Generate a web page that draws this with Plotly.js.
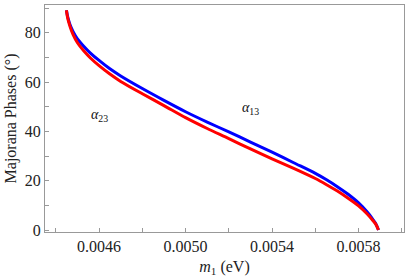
<!DOCTYPE html>
<html>
<head>
<meta charset="utf-8">
<script src="https://cdn.plot.ly/plotly-3.0.1.min.js"></script>
<style>html,body{margin:0;padding:0;background:#fff;}#chart{width:414px;height:279px;}</style>
</head>
<body>
<div id="chart"></div>
<script>
const m1Blue = [0.004449,0.004455,0.004465,0.004480,0.004500,0.004530,0.004560,0.004600,0.004650,0.004700,0.004800,0.004900,0.005000,0.005100,0.005200,0.005300,0.005400,0.005500,0.005600,0.005650,0.005700,0.005750,0.005800,0.005840,0.005865,0.005880,0.005892];
const alphaBlue = [89.2,86.5,83.5,80.5,77.6,74.5,71.8,68.8,65.4,62.5,57.4,52.6,48.0,43.8,39.8,35.7,31.6,27.3,23.0,20.5,17.7,14.6,11.0,7.3,4.4,2.5,0.0];
const m1Red = [0.004449,0.004455,0.004465,0.004480,0.004500,0.004530,0.004560,0.004600,0.004650,0.004700,0.004800,0.004900,0.005000,0.005100,0.005200,0.005300,0.005400,0.005500,0.005600,0.005650,0.005700,0.005750,0.005800,0.005840,0.005865,0.005880,0.005892];
const alphaRed = [89.2,86.0,82.8,79.3,76.0,72.6,69.8,66.7,63.3,60.3,55.3,50.5,45.6,41.2,37.1,32.9,28.9,25.0,20.9,18.5,15.9,13.0,9.8,6.5,4.0,2.3,0.0];

const xTickVals = [0.0046,0.0050,0.0054,0.0058];
const xTickText = ['0.0046','0.0050','0.0054','0.0058'];
const xMinorVals = [0.0044,0.0048,0.0052,0.0056,0.0060];
const yTickVals = [0,20,40,60,80];
const yTickText = ['0','20','40','60','80'];
const yMinorVals = [10,30,50,70,90];

const labels = [
  {text: '<i>α</i><sub>23</sub>', x: 0.004600, y: 46.5},
  {text: '<i>α</i><sub>13</sub>', x: 0.005300, y: 49.5}
];

const serif = 'Liberation Serif';

const traces = [
  {x: m1Blue, y: alphaBlue, mode: 'lines', line: {color: '#0000ff', width: 3, shape: 'spline', smoothing: 0.8}, hoverinfo: 'skip'},
  {x: m1Red, y: alphaRed, mode: 'lines', line: {color: '#ff0000', width: 3, shape: 'spline', smoothing: 0.8}, hoverinfo: 'skip'}
];

const axisCommon = {
  ticks: 'inside', ticklen: 4, tickcolor: '#999', tickwidth: 1,
  showline: true, linecolor: '#999', linewidth: 1, mirror: true,
  showgrid: false, zeroline: false,
  tickfont: {family: serif, size: 16, color: '#222'}
};

const layout = {
  width: 414, height: 279,
  margin: {l: 45, r: 10, t: 5, b: 47},
  paper_bgcolor: '#fff', plot_bgcolor: '#fff',
  showlegend: false,
  font: {family: serif, size: 16, color: '#222'},
  xaxis: Object.assign({}, axisCommon, {
    range: [0.00435, 0.00601],
    tickvals: xTickVals, ticktext: xTickText,
    minor: {tickvals: xMinorVals, ticks: 'inside', ticklen: 4, tickcolor: '#999', tickwidth: 1, showgrid: false},
    title: {text: '<i>m</i><sub>1</sub> (eV)', font: {family: serif, size: 16, color: '#222'}, standoff: 6}
  }),
  yaxis: Object.assign({}, axisCommon, {
    range: [-0.8, 91.3],
    tickvals: yTickVals, ticktext: yTickText,
    minor: {tickvals: yMinorVals, ticks: 'inside', ticklen: 4, tickcolor: '#999', tickwidth: 1, showgrid: false},
    title: {text: 'Majorana Phases (°)', font: {family: serif, size: 16, color: '#222'}, standoff: 4}
  }),
  annotations: labels.map(l => ({
    text: l.text, x: l.x, y: l.y, xref: 'x', yref: 'y', showarrow: false,
    font: {family: serif, size: 14, color: '#111'}
  }))
};

Plotly.newPlot('chart', traces, layout, {displayModeBar: false, staticPlot: true});
</script>
</body>
</html>
